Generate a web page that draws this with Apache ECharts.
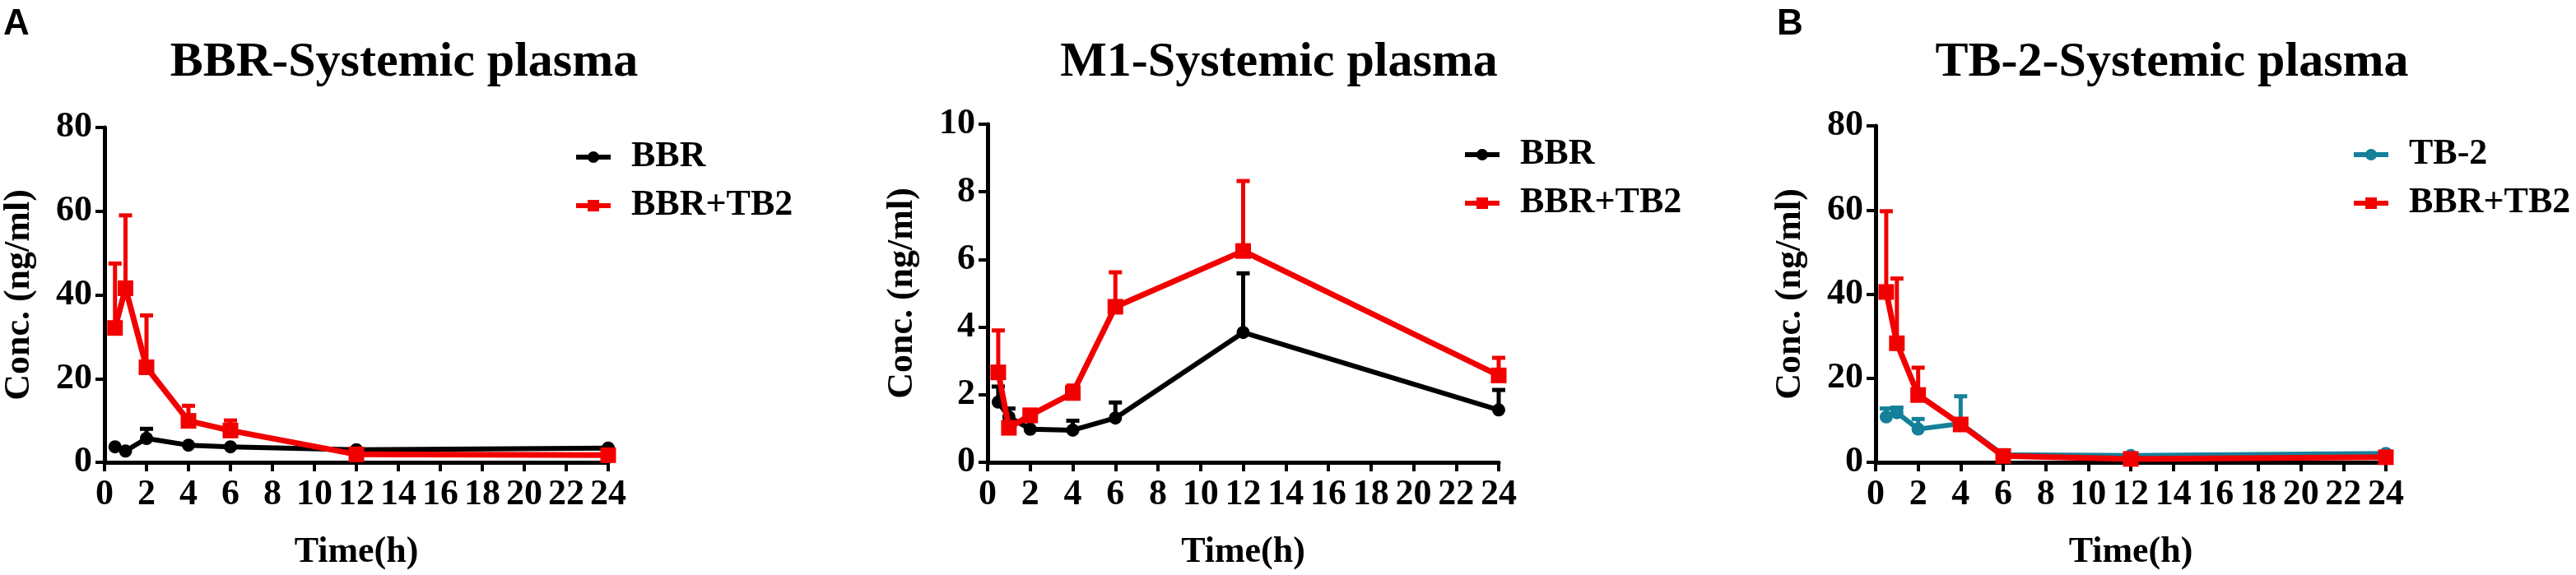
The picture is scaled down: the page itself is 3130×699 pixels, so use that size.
<!DOCTYPE html>
<html>
<head>
<meta charset="utf-8">
<script src="https://cdn.jsdelivr.net/npm/echarts@6/dist/echarts.min.js"></script>
<style>
html,body{margin:0;padding:0;background:#fff;}
#chart{width:3130px;height:699px;}
</style>
</head>
<body>
<div id="chart"></div>
<script>
// ---- data ----
const times = [0.5, 1, 2, 4, 6, 12, 24];
const xTicks = [0, 2, 4, 6, 8, 10, 12, 14, 16, 18, 20, 22, 24];

// Panel A: BBR systemic plasma
const bbrA_mean = [3.7, 2.7, 5.7, 4.1, 3.7, 3.0, 3.4];
const bbrA_sd   = [0, 0, 2.3, 0, 0, 0, 0];
const bbrTb2A_mean = [32.1, 41.6, 22.7, 9.9, 7.6, 1.9, 1.7];
const bbrTb2A_sd   = [15.4, 17.4, 12.4, 3.6, 2.4, 0, 0];

// Panel M1 systemic plasma
const bbrM1_mean = [1.78, 1.34, 0.98, 0.95, 1.31, 3.84, 1.55];
const bbrM1_sd   = [0.46, 0.25, 0.24, 0.28, 0.46, 1.75, 0.59];
const bbrTb2M1_mean = [2.66, 1.02, 1.39, 2.05, 4.60, 6.25, 2.57];
const bbrTb2M1_sd   = [1.24, 0, 0.16, 0.22, 1.02, 2.07, 0.52];

// Panel B: TB-2 systemic plasma
const tb2B_mean = [10.8, 11.8, 7.9, 9.2, 1.8, 1.6, 2.1];
const tb2B_sd   = [2.0, 1.2, 2.4, 6.5, 0, 0, 0];
const bbrTb2B_mean = [40.5, 28.3, 16.0, 9.0, 1.5, 0.8, 1.2];
const bbrTb2B_sd   = [19.2, 15.4, 6.5, 0, 0, 0, 0];

const titles = ['BBR-Systemic plasma', 'M1-Systemic plasma', 'TB-2-Systemic plasma'];
const panelLetters = ['A', 'B'];
const yAxisTitle = 'Conc. (ng/ml)';
const xAxisTitle = 'Time(h)';

// ---- styling ----
const SERIF = 'Liberation Serif';
const BLACK = '#000000';
const RED = '#f20000';
const TEAL = '#14809a';

// legend icons: thick line with a circle / square marker in the middle
const ICON_CIRCLE = 'path://M0,5L42,5L42,11L0,11Z M14,8A7,7 0 1,1 28,8A7,7 0 1,1 14,8Z';
const ICON_SQUARE = 'path://M0,5L42,5L42,11L0,11Z M14,1L28,1L28,15L14,15Z';

const grids = [
  {left: 127, top: 155, width: 612, height: 409},
  {left: 1200, top: 151, width: 621, height: 415},
  {left: 2279, top: 153, width: 620, height: 413}
];
const yRanges = [{max: 80, interval: 20}, {max: 10, interval: 2}, {max: 80, interval: 20}];

function pairs(m) { return times.map((t, i) => [t, m[i]]); }
function triples(m, s) { return times.map((t, i) => [t, m[i], s[i]]); }

function errRenderer(color) {
  return function (params, api) {
    const t = api.value(0), m = api.value(1), s = api.value(2);
    if (!s) return null;
    const p0 = api.coord([t, m]);
    const p1 = api.coord([t, m + s]);
    return {
      type: 'group',
      children: [
        {type: 'line', shape: {x1: p0[0], y1: p0[1], x2: p1[0], y2: p1[1]}, style: {stroke: color, lineWidth: 5}},
        {type: 'line', shape: {x1: p1[0] - 8, y1: p1[1], x2: p1[0] + 8, y2: p1[1]}, style: {stroke: color, lineWidth: 5}}
      ]
    };
  };
}

function errSeries(idx, mean, sd, color) {
  return {
    type: 'custom', xAxisIndex: idx, yAxisIndex: idx, name: 'err' + idx + color,
    renderItem: errRenderer(color), data: triples(mean, sd), z: 2, silent: true, clip: false
  };
}
function lineSeries(idx, name, mean, color, symbol, size, width, z) {
  return {
    type: 'line', name: name, xAxisIndex: idx, yAxisIndex: idx,
    data: pairs(mean), symbol: symbol, symbolSize: size,
    lineStyle: {color: color, width: width}, itemStyle: {color: color},
    z: z, animation: false
  };
}

const xAxes = grids.map((g, i) => ({
  type: 'value', gridIndex: i, min: xTicks[0], max: xTicks[xTicks.length - 1], interval: 2,
  splitLine: {show: false},
  axisLine: {lineStyle: {color: BLACK, width: 5}},
  axisTick: {show: true, length: 11, lineStyle: {width: 4, color: BLACK}},
  axisLabel: {color: BLACK, fontFamily: SERIF, fontWeight: 'bold', fontSize: 44, margin: 18},
  name: xAxisTitle, nameLocation: 'middle', nameGap: 88,
  nameTextStyle: {color: BLACK, fontFamily: SERIF, fontWeight: 'bold', fontSize: 44}
}));
const yAxes = grids.map((g, i) => ({
  type: 'value', gridIndex: i, min: 0, max: yRanges[i].max, interval: yRanges[i].interval,
  splitLine: {show: false},
  axisLine: {show: true, lineStyle: {color: BLACK, width: 5}},
  axisTick: {show: true, length: 11, lineStyle: {width: 4, color: BLACK}},
  axisLabel: {color: BLACK, fontFamily: SERIF, fontWeight: 'bold', fontSize: 44, margin: 15},
  name: yAxisTitle, nameLocation: 'middle', nameGap: 81, nameRotate: 90,
  nameTextStyle: {color: BLACK, fontFamily: SERIF, fontWeight: 'bold', fontSize: 44}
}));

const legendBase = {
  orient: 'vertical', itemWidth: 42, itemHeight: 15, itemGap: 15,
  textStyle: {color: BLACK, fontFamily: SERIF, fontWeight: 'bold', fontSize: 44, padding: [0, 0, 0, 20]},
  selectedMode: false
};
const legends = [
  Object.assign({}, legendBase, {left: 695, top: 164,
    data: [{name: 'BBR', icon: ICON_CIRCLE}, {name: 'BBR+TB2', icon: ICON_SQUARE}]}),
  Object.assign({}, legendBase, {left: 1775, top: 161,
    data: [{name: 'BBR', icon: ICON_CIRCLE}, {name: 'BBR+TB2', icon: ICON_SQUARE}]}),
  Object.assign({}, legendBase, {left: 2855, top: 161,
    data: [{name: 'TB-2', icon: ICON_CIRCLE}, {name: 'BBR+TB2', icon: ICON_SQUARE}]})
];

const titleCenters = [491, 1554, 2639];
const graphics = titles.map((t, i) => ({
  type: 'text', x: titleCenters[i], y: 76,
  style: {text: t, fontFamily: SERIF, fontWeight: 'bold', fontSize: 60, fill: BLACK, align: 'center', verticalAlign: 'middle'}
}));

const letterTitles = [
  {text: panelLetters[0], left: 4, top: 8},
  {text: panelLetters[1], left: 2159, top: 8}
].map(o => Object.assign(o, {padding: 0,
  textStyle: {fontFamily: 'Liberation Sans', fontWeight: 'bold', fontSize: 44, color: BLACK}}));

const series = [
  errSeries(0, bbrA_mean, bbrA_sd, BLACK),
  errSeries(0, bbrTb2A_mean, bbrTb2A_sd, RED),
  lineSeries(0, 'BBR', bbrA_mean, BLACK, 'circle', 16, 6, 3),
  lineSeries(0, 'BBR+TB2', bbrTb2A_mean, RED, 'rect', 19, 7, 4),

  errSeries(1, bbrM1_mean, bbrM1_sd, BLACK),
  errSeries(1, bbrTb2M1_mean, bbrTb2M1_sd, RED),
  lineSeries(1, 'BBR', bbrM1_mean, BLACK, 'circle', 16, 6, 3),
  lineSeries(1, 'BBR+TB2', bbrTb2M1_mean, RED, 'rect', 19, 7, 4),

  errSeries(2, tb2B_mean, tb2B_sd, TEAL),
  errSeries(2, bbrTb2B_mean, bbrTb2B_sd, RED),
  lineSeries(2, 'TB-2', tb2B_mean, TEAL, 'circle', 16, 6, 3),
  lineSeries(2, 'BBR+TB2', bbrTb2B_mean, RED, 'rect', 19, 7, 4)
];

const chart = echarts.init(document.getElementById('chart'), null, {renderer: 'canvas'});
chart.setOption({
  backgroundColor: '#ffffff',
  animation: false,
  title: letterTitles,
  grid: grids,
  xAxis: xAxes,
  yAxis: yAxes,
  legend: legends,
  graphic: graphics,
  series: series
});
</script>
</body>
</html>
